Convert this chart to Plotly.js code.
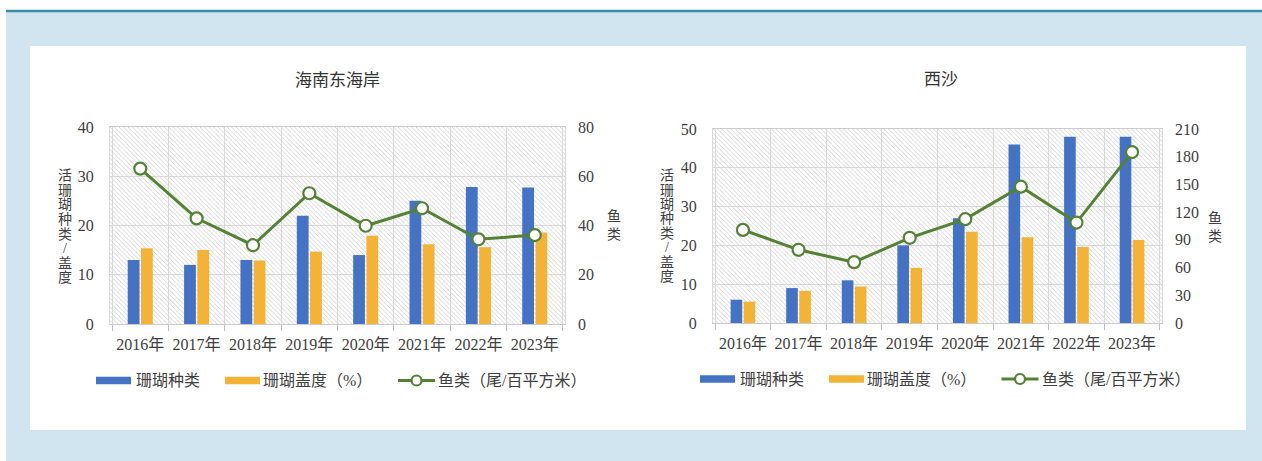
<!DOCTYPE html>
<html><head><meta charset="utf-8">
<script src="https://cdn.plot.ly/plotly-3.0.1.min.js"></script>
<style>html,body{margin:0;padding:0;background:#fff}#chart{width:1262px;height:461px}</style>
</head><body><div id="chart"></div>
<script>
// ---- data ----
const years = ['2016年','2017年','2018年','2019年','2020年','2021年','2022年','2023年'];
const hnSpecies = [13, 12, 13, 22, 14, 25, 27.8, 27.7];
const hnCover   = [15.4, 15.0, 12.9, 14.7, 17.9, 16.2, 15.6, 18.6];
const hnFish    = [63.1, 42.9, 32.0, 53.1, 39.9, 47.0, 34.4, 36.1];
const xsSpecies = [6, 9, 11, 20, 27, 46, 48, 48];
const xsCover   = [5.5, 8.3, 9.4, 14.2, 23.5, 22.1, 19.6, 21.4];
const xsFish    = [100.8, 79.2, 65.9, 92.2, 112.4, 147.6, 108.7, 185];
const titleLeft = '海南东海岸';
const titleRight = '西沙';
const nameSpecies = '珊瑚种类';
const nameCover = '珊瑚盖度（%）';
const nameFish = '鱼类（尾/百平方米）';
const yTitleLeft = '活珊瑚种类/盖度';
const yTitleRight = '鱼类';

// ---- style ----
const W = 1262, H = 461;
const BLUE = '#4472C4', ORANGE = '#F5B335', GREEN = '#548235';
const TXT = '#404040', GRID = '#d9d9d9', BG = '#d0e5ef';
const FONT = 'Liberation Serif, DejaVu Serif, serif';
const CJK = 'Liberation Serif, DejaVu Serif, Noto Sans CJK SC, serif';
const px = v => v / W;
const py = v => 1 - v / H;

const L = {x0: 110, x1: 565, y0: 127, y1: 324};
const R = {x0: 713, x1: 1162, y0: 129, y1: 323};

function hatch(w, h) {
  const svg = `<svg xmlns="http://www.w3.org/2000/svg" width="${w}" height="${h}" viewBox="0 0 ${w} ${h}" preserveAspectRatio="none">` +
    `<defs><pattern id="p" patternUnits="userSpaceOnUse" width="4.5" height="4.5">` +
    `<path d="M-1,-1 L5.5,5.5 M3.5,-1 L5.5,1 M-1,3.5 L1,5.5" stroke="#cdcdcd" stroke-width="0.8"/></pattern></defs>` +
    `<rect width="${w}" height="${h}" fill="#ffffff"/><rect width="${w}" height="${h}" fill="url(#p)"/></svg>`;
  return 'data:image/svg+xml;charset=utf-8,' + encodeURIComponent(svg);
}

const barCommon = {type: 'bar', hoverinfo: 'y', showlegend: false};
const lineCommon = {type: 'scatter', mode: 'lines+markers', showlegend: false,
  line: {color: GREEN, width: 3},
  marker: {symbol: 'circle', size: 12, color: '#ffffff', line: {color: GREEN, width: 2.2}}};

const traces = [
  Object.assign({}, barCommon, {x: years, y: hnSpecies, name: nameSpecies, marker: {color: BLUE}, xaxis: 'x', yaxis: 'y'}),
  Object.assign({}, barCommon, {x: years, y: hnCover, name: nameCover, marker: {color: ORANGE}, xaxis: 'x', yaxis: 'y'}),
  Object.assign({}, lineCommon, {x: years, y: hnFish, name: nameFish, xaxis: 'x', yaxis: 'y2'}),
  Object.assign({}, barCommon, {x: years, y: xsSpecies, name: nameSpecies, marker: {color: BLUE}, xaxis: 'x2', yaxis: 'y3'}),
  Object.assign({}, barCommon, {x: years, y: xsCover, name: nameCover, marker: {color: ORANGE}, xaxis: 'x2', yaxis: 'y3'}),
  Object.assign({}, lineCommon, {x: years, y: xsFish, name: nameFish, xaxis: 'x2', yaxis: 'y4'})
];

const tickFont = {family: FONT, size: 16, color: TXT};
function xax(d, anchor) {
  return {domain: d, anchor: anchor, type: 'category', tickson: 'boundaries',
    showgrid: true, gridcolor: GRID, gridwidth: 1, tickangle: 0,
    ticks: 'outside', ticklen: 6, tickcolor: '#bfbfbf', tickwidth: 1,
    showline: true, mirror: true, linecolor: '#cccccc', linewidth: 1,
    tickfont: {family: CJK, size: 16, color: TXT}, ticklabelstandoff: 6, fixedrange: true};
}
function yleft(d, anchor, max, dt) {
  return {domain: d, anchor: anchor, range: [0, max], dtick: dt, tick0: 0,
    showgrid: true, gridcolor: GRID, gridwidth: 1, zeroline: false,
    showline: true, mirror: true, linecolor: '#d9d9d9',
    ticks: '', tickfont: tickFont, ticklabelstandoff: 12, fixedrange: true};
}
function yright(over, anchor, max, dt) {
  return {overlaying: over, anchor: anchor, side: 'right', range: [0, max], dtick: dt, tick0: 0,
    showgrid: false, zeroline: false, showline: false,
    ticks: '', tickfont: tickFont, ticklabelstandoff: 12, fixedrange: true};
}

const LX = [px(L.x0), px(L.x1)], LY = [py(L.y1), py(L.y0)];
const RX = [px(R.x0), px(R.x1)], RY = [py(R.y1), py(R.y0)];

const shapes = [
  {type: 'rect', xref: 'paper', yref: 'paper', x0: px(6), x1: 1, y0: py(46), y1: py(12), fillcolor: BG, line: {width: 0}, layer: 'below'},
  {type: 'rect', xref: 'paper', yref: 'paper', x0: px(6), x1: px(30), y0: 0, y1: py(46), fillcolor: BG, line: {width: 0}, layer: 'below'},
  {type: 'rect', xref: 'paper', yref: 'paper', x0: px(1246), x1: 1, y0: 0, y1: py(46), fillcolor: BG, line: {width: 0}, layer: 'below'},
  {type: 'rect', xref: 'paper', yref: 'paper', x0: px(30), x1: px(1246), y0: 0, y1: py(430), fillcolor: BG, line: {width: 0}, layer: 'below'},
  {type: 'rect', xref: 'paper', yref: 'paper', x0: px(6), x1: 1, y0: py(12.2), y1: py(9.8), fillcolor: '#3a8da6', line: {width: 0}, layer: 'below'}
];
const annotations = [];
function ann(text, x, y, opts) {
  annotations.push(Object.assign({text: text, xref: 'paper', yref: 'paper', x: px(x), y: py(y),
    showarrow: false, xanchor: 'center', yanchor: 'middle',
    font: {family: CJK, size: 14, color: TXT}}, opts || {}));
}
ann(titleLeft, 337, 80, {font: {family: CJK, size: 17, color: '#333333'}});
ann(titleRight, 941, 79, {font: {family: CJK, size: 17, color: '#333333'}});
function stack(str, x, y0, step) {
  Array.from(str).forEach((c, i) => ann(c, x, y0 + i * step, {font: {family: CJK, size: 14, color: TXT}}));
}
stack(yTitleLeft, 65, 175.7, 14.6);
stack(yTitleRight, 614, 216, 18);
stack(yTitleLeft, 667, 175.7, 14.4);
stack(yTitleRight, 1215, 217.5, 18.5);

function legend(xb, xo, xl, yc) {
  shapes.push({type: 'rect', xref: 'paper', yref: 'paper', x0: px(xb), x1: px(xb + 35), y0: py(yc + 3.8), y1: py(yc - 3.8), fillcolor: BLUE, line: {width: 0}});
  ann(nameSpecies, xb + 38, yc, {xanchor: 'left', font: {family: CJK, size: 16, color: TXT}});
  shapes.push({type: 'rect', xref: 'paper', yref: 'paper', x0: px(xo), x1: px(xo + 35), y0: py(yc + 3.8), y1: py(yc - 3.8), fillcolor: ORANGE, line: {width: 0}});
  ann(nameCover, xo + 36, yc, {xanchor: 'left', font: {family: CJK, size: 16, color: TXT}});
  shapes.push({type: 'line', xref: 'paper', yref: 'paper', x0: px(xl), x1: px(xl + 37), y0: py(yc), y1: py(yc), line: {color: GREEN, width: 3}});
  shapes.push({type: 'circle', xref: 'paper', yref: 'paper', x0: px(xl + 18.5 - 5), x1: px(xl + 18.5 + 5), y0: py(yc + 5), y1: py(yc - 5), fillcolor: '#ffffff', line: {color: GREEN, width: 2.2}});
  ann(nameFish, xl + 38, yc, {xanchor: 'left', font: {family: CJK, size: 16, color: TXT}});
}
legend(96, 225, 398, 380.5);
legend(700, 829, 1001.5, 379);

const layout = {
  width: W, height: H, margin: {l: 0, r: 0, t: 0, b: 0},
  paper_bgcolor: '#ffffff', plot_bgcolor: 'rgba(0,0,0,0)',
  barmode: 'group', bargap: 0.53, bargroupgap: 0.11,
  showlegend: false, hovermode: false,
  font: {family: FONT, color: TXT},
  xaxis: xax(LX, 'y'), yaxis: yleft(LY, 'x', 40, 10), yaxis2: yright('y', 'x', 80, 20),
  xaxis2: xax(RX, 'y3'), yaxis3: yleft(RY, 'x2', 50, 10), yaxis4: yright('y3', 'x2', 210, 30),
  images: [
    {source: hatch(L.x1 - L.x0, L.y1 - L.y0), xref: 'paper', yref: 'paper', x: LX[0], y: LY[1], sizex: LX[1] - LX[0], sizey: LY[1] - LY[0], sizing: 'stretch', xanchor: 'left', yanchor: 'top', layer: 'below'},
    {source: hatch(R.x1 - R.x0, R.y1 - R.y0), xref: 'paper', yref: 'paper', x: RX[0], y: RY[1], sizex: RX[1] - RX[0], sizey: RY[1] - RY[0], sizing: 'stretch', xanchor: 'left', yanchor: 'top', layer: 'below'}
  ],
  shapes: shapes, annotations: annotations
};
Plotly.newPlot('chart', traces, layout, {displayModeBar: false, staticPlot: true});
</script></body></html>
